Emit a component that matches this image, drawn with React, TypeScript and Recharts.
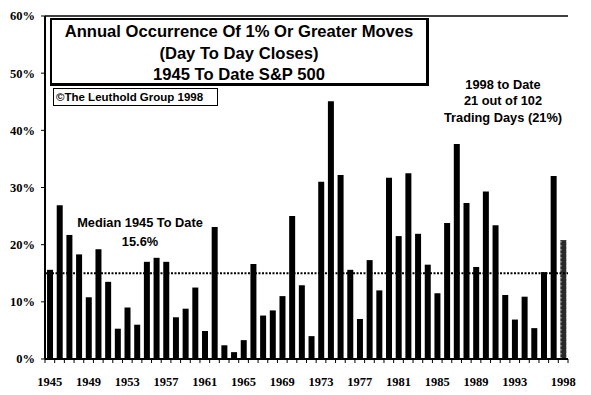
import { BarChart, Bar, XAxis, YAxis, ReferenceLine, Cell } from "recharts";

// 1945 .. 1998
const years = [
  "1945", "1946", "1947", "1948", "1949", "1950", "1951", "1952", "1953", "1954",
  "1955", "1956", "1957", "1958", "1959", "1960", "1961", "1962", "1963", "1964",
  "1965", "1966", "1967", "1968", "1969", "1970", "1971", "1972", "1973", "1974",
  "1975", "1976", "1977", "1978", "1979", "1980", "1981", "1982", "1983", "1984",
  "1985", "1986", "1987", "1988", "1989", "1990", "1991", "1992", "1993", "1994",
  "1995", "1996", "1997", "1998",
];

// % of trading days with a 1%+ close-to-close move
const bigMovePct = [
  15.6, 26.9, 21.7, 18.3, 10.8, 19.2, 13.5, 5.3, 9.0, 6.0,
  17.0, 17.7, 17.0, 7.3, 8.8, 12.5, 4.9, 23.1, 2.4, 1.2,
  3.3, 16.6, 7.6, 8.5, 11.0, 25.0, 12.9, 4.0, 31.0, 45.1,
  32.2, 15.6, 7.0, 17.3, 12.0, 31.7, 21.5, 32.5, 21.9, 16.5,
  11.5, 23.8, 37.6, 27.3, 16.1, 29.3, 23.4, 11.2, 6.9, 10.9,
  5.4, 15.2, 32.0, 20.8,
];

const labeledYears = [
  "1945", "1949", "1953", "1957", "1961", "1965", "1969", "1973",
  "1977", "1981", "1985", "1989", "1993", "1998",
];
const yTicks = [0, 10, 20, 30, 40, 50, 60];
const medianLine = 15;
const partialYear = "1998";

const titleLines = [
  "Annual Occurrence Of 1% Or Greater Moves",
  "(Day To Day Closes)",
  "1945 To Date S&P 500",
];
const ytdLines = ["1998 to Date", "21 out of 102", "Trading Days (21%)"];
const medianLines = ["Median 1945 To Date", "15.6%"];

const data = years.map((year, i) => ({ year, pct: bigMovePct[i] }));

const W = 591;
const H = 395;
const serif = "'Liberation Serif', 'Times New Roman', serif";
const sans = "'Liberation Sans', Arial, sans-serif";

function YearTick(props: any) {
  const { x, y, payload, index, visibleTicksCount } = props;
  // tick marks sit on band edges, half a band left of the label
  const half = (W - 45 - 23) / (visibleTicksCount || years.length) / 2;
  const show = labeledYears.includes(payload.value);
  return (
    <g>
      <line x1={x - half} x2={x - half} y1={y - 18} y2={y - 14} stroke="#000" strokeWidth={1} />
      {index === years.length - 1 && (
        <line x1={x + half} x2={x + half} y1={y - 18} y2={y - 14} stroke="#000" strokeWidth={1} />
      )}
      {show && (
        <text
          x={x}
          y={y}
          dy="0.71em"
          textAnchor="middle"
          fontFamily={serif}
          fontWeight="bold"
          fontSize={12.5}
          fill="#000"
        >
          {payload.value}
        </text>
      )}
    </g>
  );
}

export default function App() {
  return (
    <div style={{ position: "absolute", left: 0, top: 0, width: W, height: H, background: "#fff" }}>
      <BarChart
        width={W}
        height={H}
        data={data}
        margin={{ top: 16, right: 23, bottom: 0, left: 0 }}
        barCategoryGap="21%"
      >
        <defs>
          <pattern id="ytd" width="6" height="4" patternUnits="userSpaceOnUse">
            <rect width="6" height="4" fill="#2a2a2a" />
            <rect x="2.5" y="1" width="1" height="1.5" fill="#bbb" />
          </pattern>
        </defs>
        <XAxis
          dataKey="year"
          interval={0}
          height={36}
          tickSize={4}
          tickMargin={14}
          tickLine={false}
          tick={<YearTick />}
          axisLine={{ stroke: "#000", strokeWidth: 2 }}
        />
        <YAxis
          domain={[0, 60]}
          ticks={yTicks}
          width={45}
          tickSize={4}
          tickMargin={6}
          tickFormatter={(v) => `${v}%`}
          tick={{ fontFamily: serif, fontWeight: "bold", fontSize: 12.5, fill: "#000" }}
          tickLine={{ stroke: "#000" }}
          axisLine={{ stroke: "#000", strokeWidth: 2 }}
        />
        <YAxis
          yAxisId="frame"
          orientation="right"
          width={0}
          tick={false}
          tickLine={false}
          axisLine={{ stroke: "#000", strokeWidth: 1.5 }}
        />
        <ReferenceLine y={60} stroke="#000" strokeWidth={1.5} />
        <Bar dataKey="pct" isAnimationActive={false}>
          {data.map((d) => (
            <Cell key={d.year} fill={d.year === partialYear ? "url(#ytd)" : "#000"} />
          ))}
        </Bar>
        <ReferenceLine y={medianLine} stroke="#000" strokeWidth={1.8} strokeDasharray="2 1.5" />
      </BarChart>

      <div
        style={{
          position: "absolute",
          left: 50,
          top: 18,
          width: 374,
          height: 62,
          border: "2px solid #000",
          borderRightWidth: 3,
          borderBottomWidth: 3,
          background: "#fff",
          fontFamily: sans,
          fontWeight: "bold",
          fontSize: 16.6,
          lineHeight: "21.5px",
          textAlign: "center",
          paddingTop: 1,
          boxSizing: "content-box",
        }}
      >
        {titleLines.map((t) => (
          <div key={t}>{t}</div>
        ))}
      </div>

      <div
        style={{
          position: "absolute",
          left: 53,
          top: 88,
          width: 165,
          height: 18,
          border: "1.5px solid #000",
          background: "#fff",
          fontFamily: sans,
          fontWeight: "bold",
          fontSize: 11.5,
          lineHeight: "16px",
          paddingLeft: 2,
          boxSizing: "border-box",
        }}
      >
        ©The Leuthold Group 1998
      </div>

      <div
        style={{
          position: "absolute",
          left: 428,
          top: 77,
          width: 150,
          fontFamily: sans,
          fontWeight: "bold",
          fontSize: 12.8,
          lineHeight: "16.3px",
          textAlign: "center",
        }}
      >
        {ytdLines.map((t) => (
          <div key={t}>{t}</div>
        ))}
      </div>

      <div
        style={{
          position: "absolute",
          left: 55,
          top: 214,
          width: 170,
          fontFamily: sans,
          fontWeight: "bold",
          fontSize: 12.8,
          lineHeight: "18.5px",
          textAlign: "center",
        }}
      >
        {medianLines.map((t) => (
          <div key={t}>{t}</div>
        ))}
      </div>
    </div>
  );
}
